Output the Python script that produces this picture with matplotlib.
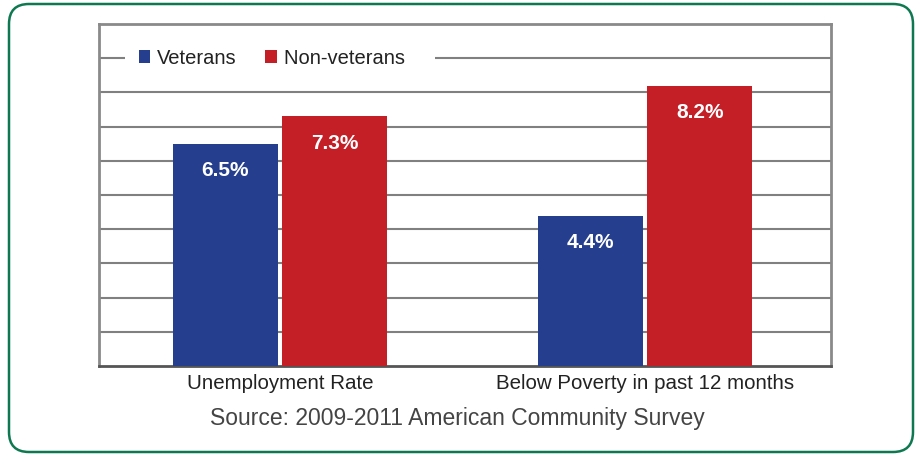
import matplotlib
matplotlib.use('Agg')
import matplotlib.pyplot as plt
from matplotlib.patches import Patch, FancyBboxPatch
import numpy as np

plt.rcParams['font.family'] = ['Liberation Sans', 'DejaVu Sans']

# Data
categories = ['Unemployment Rate', 'Below Poverty in past 12 months']
veterans = [6.5, 4.4]
non_veterans = [7.3, 8.2]
source = 'Source: 2009-2011 American Community Survey'

blue = '#253F8E'
red = '#C41F26'
grid_gray = '#808080'

fig = plt.figure(figsize=(9.15, 4.55), dpi=100)
ax = fig.add_axes([0.108, 0.1956, 0.8, 0.7514])

x = np.arange(len(categories))
w = 0.2877
off = 0.15
b1 = ax.bar(x - off, veterans, w, color=blue, zorder=3)
b2 = ax.bar(x + off, non_veterans, w, color=red, zorder=3)

for bars, vals in [(b1, veterans), (b2, non_veterans)]:
    for b, v in zip(bars, vals):
        ax.annotate(f'{v}%', (b.get_x() + b.get_width() / 2, v),
                    xytext=(0, -27), textcoords='offset pixels',
                    ha='center', va='center', color='white',
                    fontsize=15, fontweight='bold', zorder=4)

ax.set_xlim(-0.496, 1.509)
ax.set_ylim(0, 10)
for yv in range(1, 10):
    ax.axhline(yv, color=grid_gray, lw=1.5, zorder=1)

ax.set_yticks([])
ax.set_xticks(x)
ax.set_xticklabels(categories, fontsize=14.8, color='#222222')
ax.tick_params(axis='x', length=0, pad=6)

for s in ['left', 'right', 'top']:
    ax.spines[s].set_color('#8a8a8a')
    ax.spines[s].set_linewidth(2)
ax.spines['bottom'].set_color('#555555')
ax.spines['bottom'].set_linewidth(2)

handles = [Patch(facecolor=blue, label='Veterans'),
           Patch(facecolor=red, label='Non-veterans   ')]
leg = ax.legend(handles=handles, ncol=2, loc='center left',
                bbox_to_anchor=(0.0355, 0.9), frameon=True, fancybox=False,
                edgecolor='white', facecolor='white', framealpha=1,
                fontsize=14.5, handlelength=0.55, handleheight=0.6,
                handletextpad=0.35, columnspacing=1.45, borderpad=0.68,
                borderaxespad=0)
leg.get_frame().set_linewidth(0)
for t in leg.get_texts():
    t.set_color('#222222')

fig.text(0.5, (455 - 418) / 455, source, ha='center', va='center',
         fontsize=16.5, color='#444444')

border = FancyBboxPatch((0.09 + 0.2, 0.03 + 0.2), 9.04 - 0.4, 4.48 - 0.4,
                        boxstyle='round,pad=0.2,rounding_size=0.2',
                        transform=fig.dpi_scale_trans, facecolor='none',
                        edgecolor='#0E7950', linewidth=1.8, zorder=10)
fig.patches.append(border)

fig.savefig('out.png', dpi=100)
